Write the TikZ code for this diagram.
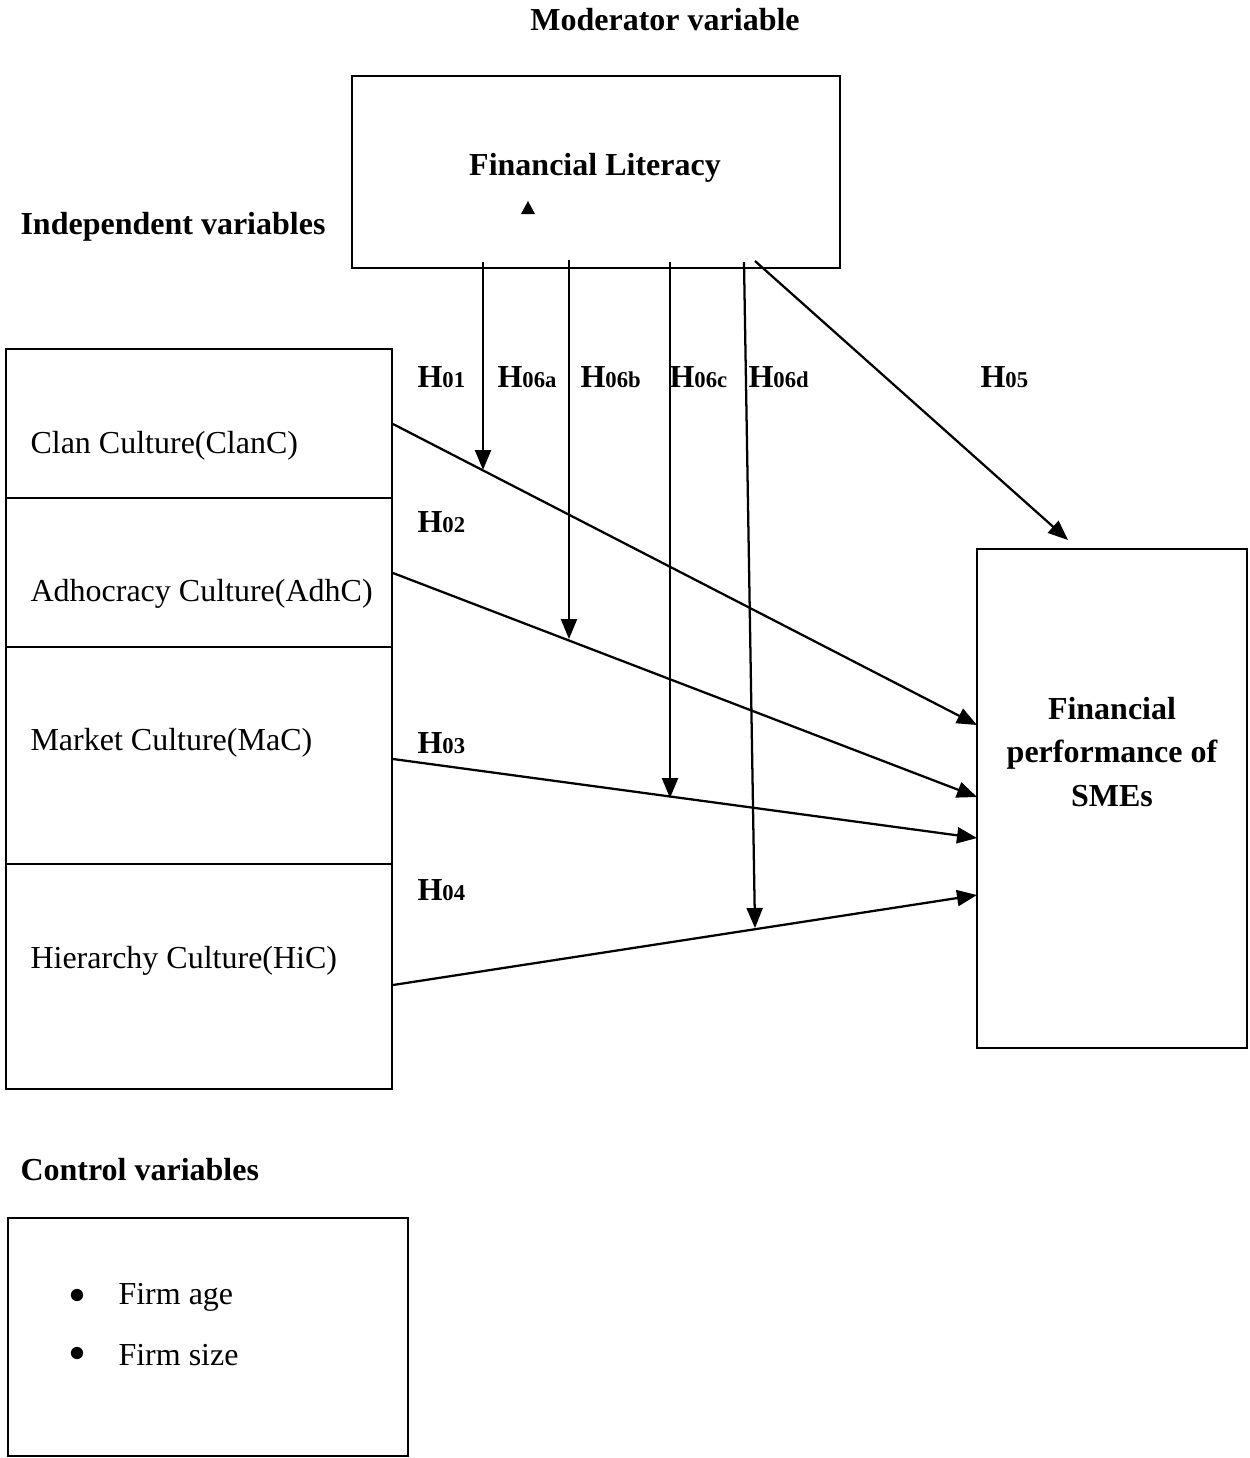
\documentclass[tikz,border=0pt]{standalone}
\usepackage{fontspec}
\setmainfont{Liberation Serif}
\usetikzlibrary{arrows.meta}
\newcommand{\fsz}{\fontsize{12}{14.4}\selectfont}
\newcommand{\hyp}[1]{H{\fontsize{8.5}{10}\selectfont #1}}
\tikzset{
  box/.style={draw, line width=0.7pt, inner sep=0pt},
  conn/.style={line width=0.85pt, -{Triangle[length=7.5pt,width=6pt]}},
  lab/.style={font=\fsz\bfseries, anchor=west, inner sep=0pt},
  txt/.style={font=\fsz, anchor=west, inner sep=0pt},
  ctr/.style={font=\fsz\bfseries, inner sep=0pt, align=center},
}
\begin{document}
\begin{tikzpicture}[x=0.375pt, y=-0.375pt]
\useasboundingbox (0,0) rectangle (1250,1458);

% titles
\node[ctr] (tmod) at (665,20) {Moderator variable};
\node[lab] (tind) at (20,227) {Independent variables};
\node[lab] (tctl) at (20,1170) {Control variables};

% boxes
\node[box, minimum width=488*0.375pt, minimum height=192*0.375pt] (FL) at (596,172) {};
\node[ctr] (FLt) at (595,168) {Financial Literacy};
\fill (521,214) -- (535,214) -- (528,201) -- cycle;

\node[box, minimum width=386*0.375pt, minimum height=740*0.375pt] (L) at (199,719) {};
\draw[line width=0.7pt] (L.west |- 0,498) -- (L.east |- 0,498);
\draw[line width=0.7pt] (L.west |- 0,647) -- (L.east |- 0,647);
\draw[line width=0.7pt] (L.west |- 0,864) -- (L.east |- 0,864);

\node[txt] (clan) at (30,446) {Clan Culture(ClanC)};
\node[txt] (adh) at (30,594) {Adhocracy Culture(AdhC)};
\node[txt] (mac) at (30,743) {Market Culture(MaC)};
\node[txt] (hic) at (30,961) {Hierarchy Culture(HiC)};

\node[box, minimum width=270*0.375pt, minimum height=499*0.375pt] (R) at (1112,798.5) {};
\node[ctr] (Rt) at (1112,752) {Financial\\[1.8pt]performance of\\[1.8pt]SMEs};

\node[box, minimum width=400*0.375pt, minimum height=238*0.375pt] (C) at (208,1337) {};
\node[txt] (b1) at (118,1297) {Firm age};
\node[txt] (b2) at (118,1355) {Firm size};
\node[inner sep=0pt, scale=1.2] (d1) at (77,1296) {$\bullet$};
\node[inner sep=0pt, scale=1.2] (d2) at (77,1354) {$\bullet$};

% hypothesis labels
\node[lab] (h01) at (417,377) {\hyp{01}};
\node[lab] (h06a) at (497,377) {\hyp{06a}};
\node[lab] (h06b) at (580,377) {\hyp{06b}};
\node[lab] (h06c) at (669,377) {\hyp{06c}};
\node[lab] (h06d) at (748,377) {\hyp{06d}};
\node[lab] (h05) at (980,377) {\hyp{05}};
\node[lab] (h02) at (417,522) {\hyp{02}};
\node[lab] (h03) at (417,743) {\hyp{03}};
\node[lab] (h04) at (417,890) {\hyp{04}};

% connector coordinates
\coordinate (sClan) at (393,424);
\coordinate (sAdh) at (393,573);
\coordinate (sMac) at (393,759);
\coordinate (sHic) at (393,985);
\coordinate (eClan) at (977,725);
\coordinate (eAdh) at (977,797);
\coordinate (eMac) at (977,838);
\coordinate (eHic) at (977,895);
\coordinate (sA) at (483,262);
\coordinate (eA) at (483,470);
\coordinate (sB) at (569,260);
\coordinate (eB) at (569,639);
\coordinate (sC) at (670,262);
\coordinate (eC) at (670,798);
\coordinate (sD) at (744,262);
\coordinate (eD) at (755,928);
\coordinate (s5) at (755,261);
\coordinate (e5) at (1068,540);

\draw[conn] (sClan) -- (eClan);
\draw[conn] (sAdh) -- (eAdh);
\draw[conn] (sMac) -- (eMac);
\draw[conn] (sHic) -- (eHic);
\draw[conn] (sA) -- (eA);
\draw[conn] (sB) -- (eB);
\draw[conn] (sC) -- (eC);
\draw[conn] (sD) -- (eD);
\draw[conn] (s5) -- (e5);
\end{tikzpicture}
\end{document}
